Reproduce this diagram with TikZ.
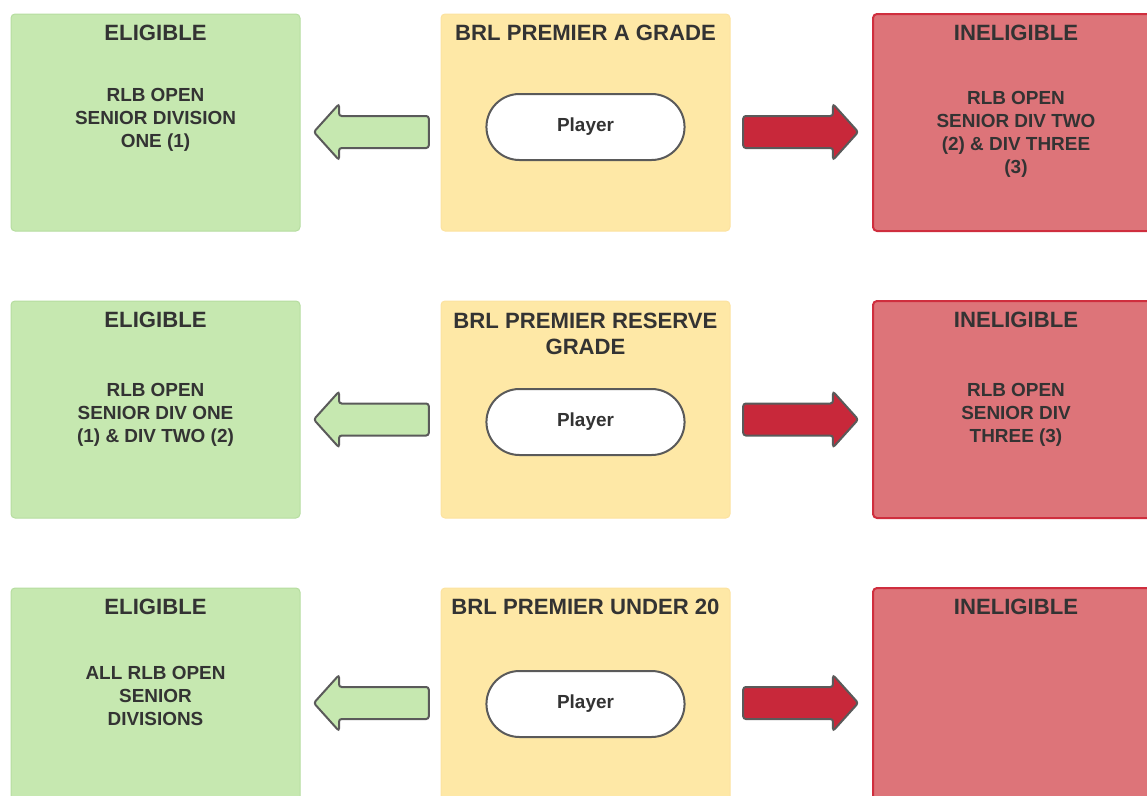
\documentclass[tikz,border=0pt]{standalone}
\usepackage{fontspec}
\setmainfont{Liberation Sans}
\usetikzlibrary{shapes.arrows,shapes.misc}

\definecolor{okfill}{HTML}{C6E8B0}
\definecolor{okline}{HTML}{B6DDA0}
\definecolor{gradefill}{HTML}{FEE8A6}
\definecolor{gradeline}{HTML}{FCE2A0}
\definecolor{nofill}{HTML}{DD7479}
\definecolor{noline}{HTML}{CF2E3E}
\definecolor{redarrow}{HTML}{C8283A}
\definecolor{edge}{HTML}{5A5A5A}
\definecolor{txt}{HTML}{333333}

\begin{document}
\begin{tikzpicture}[x=0.75pt, y=-0.75pt,
  box/.style={rectangle, rounded corners=3pt, minimum width=216.75pt, minimum height=162.75pt, inner sep=0pt},
  eligible/.style={box, fill=okfill, draw=okline, line width=0.75pt},
  grade/.style={box, fill=gradefill, draw=gradeline, line width=0.75pt},
  ineligible/.style={box, fill=nofill, draw=noline, line width=1.5pt},
  title/.style={font=\bfseries\fontsize{16.6}{19.5}\selectfont, text=txt, align=center, inner sep=0pt},
  body/.style={font=\bfseries\fontsize{14.2}{17.25}\selectfont, text=txt, align=center, inner sep=0pt},
  player/.style={rounded rectangle, draw=edge, line width=1.5pt, fill=white, minimum width=155.25pt, minimum height=49.5pt, font=\bfseries\fontsize{14.2}{17.25}\selectfont, text=txt},
  blockarrow/.style={single arrow, draw=edge, line width=1.5pt, rounded corners=2pt, minimum height=86.25pt, inner xsep=0pt, inner ysep=11.25pt, single arrow head extend=9pt, single arrow tip angle=96},
  toleft/.style={blockarrow, fill=okfill, shape border rotate=180},
  toright/.style={blockarrow, fill=redarrow}
]
\clip (0,0) rectangle (1147,796);

% row 1 : A grade
\node[eligible] (e1) at (155.5,122.5) {};
\node[grade] (g1) at (585.5,122.5) {};
\node[ineligible] (i1) at (1017.5,122.5) {};
\node[title] (e1t) at (155.5,33) {ELIGIBLE};
\node[title] (g1t) at (585.5,33) {BRL PREMIER A GRADE};
\node[title] (i1t) at (1016,33) {INELIGIBLE};
\node[body] (e1b) at (155.5,120) {RLB OPEN\\SENIOR DIVISION\\ONE (1)};
\node[body] (i1b) at (1016,134.5) {RLB OPEN\\SENIOR DIV TWO\\(2) \& DIV THREE\\(3)};
\node[player] (p1) at (585.5,127) {Player};
\node[toleft] (l1) at (378.5,132) {};
\node[toright] (r1) at (793.5,132) {};

% row 2 : reserve grade
\node[eligible] (e2) at (155.5,409.5) {};
\node[grade] (g2) at (585.5,409.5) {};
\node[ineligible] (i2) at (1017.5,409.5) {};
\node[title] (e2t) at (155.5,320) {ELIGIBLE};
\node[title] (g2t) at (585.5,334) {BRL PREMIER RESERVE\\GRADE};
\node[title] (i2t) at (1016,320) {INELIGIBLE};
\node[body] (e2b) at (155.5,415) {RLB OPEN\\SENIOR DIV ONE\\(1) \& DIV TWO (2)};
\node[body] (i2b) at (1016,415) {RLB OPEN\\SENIOR DIV\\THREE (3)};
\node[player] (p2) at (585.5,422) {Player};
\node[toleft] (l2) at (378.5,419.5) {};
\node[toright] (r2) at (793.5,419.5) {};

% row 3 : under 20
\node[eligible] (e3) at (155.5,696.5) {};
\node[grade] (g3) at (585.5,696.5) {};
\node[ineligible] (i3) at (1017.5,696.5) {};
\node[title] (e3t) at (155.5,607) {ELIGIBLE};
\node[title] (g3t) at (585.5,607) {BRL PREMIER UNDER 20};
\node[title] (i3t) at (1016,607) {INELIGIBLE};
\node[body] (e3b) at (155.5,696) {ALL RLB OPEN\\SENIOR\\DIVISIONS};
\node[player] (p3) at (585.5,704) {Player};
\node[toleft] (l3) at (378.5,703) {};
\node[toright] (r3) at (793.5,703) {};
\end{tikzpicture}
\end{document}
